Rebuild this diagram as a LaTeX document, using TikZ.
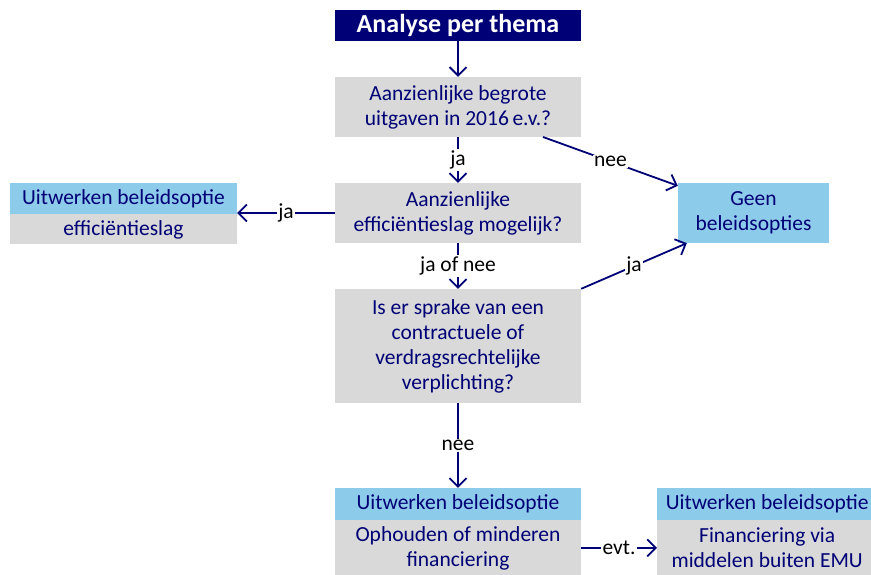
\documentclass[tikz,border=0pt]{standalone}
\usepackage{fontspec}
\setmainfont{Carlito}
\usetikzlibrary{arrows.meta,calc}
\definecolor{navy}{RGB}{0,0,118}
\definecolor{lblue}{RGB}{141,203,234}
\definecolor{lgray}{RGB}{217,217,217}
\tikzset{
  gbox/.style={fill=lgray,text=navy,align=center,inner sep=0pt,font=\fontsize{21.5}{25}\selectfont},
  bbox/.style={fill=lblue,text=navy,align=center,inner sep=0pt,font=\fontsize{21.5}{25}\selectfont},
  conn/.style={draw=navy,line width=1.8pt,-{Straight Barb[angle=90:12pt,line width=1.8pt]}},
  lbl/.style={fill=white,text=black,inner sep=1.5pt,font=\fontsize{21.5}{24}\selectfont},
}
\begin{document}
\begin{tikzpicture}[x=1pt,y=-1pt]
\useasboundingbox (0,0) rectangle (871,575);
% title
\node[fill=navy,text=white,font=\fontsize{26}{28}\selectfont\bfseries,minimum width=246pt,minimum height=31pt,inner sep=0pt] (title) at (458,25.5) {Analyse per thema};
% box1
\node[gbox,minimum width=246pt,minimum height=60pt] (b1) at (458,107) {Aanzienlijke begrote\\uitgaven in 2016\,e.v.?};
% box2
\node[gbox,minimum width=246pt,minimum height=60pt] (b2) at (458,213) {Aanzienlijke\\efficiëntieslag mogelijk?};
% box3
\node[gbox,minimum width=246pt,minimum height=114pt] (b3) at (458,346) {Is er sprake van een\\contractuele of\\verdragsrechtelijke\\verplichting?};
% left box
\node[bbox,minimum width=227pt,minimum height=31pt] (lh) at (123.5,198.5) {Uitwerken beleidsoptie};
\node[gbox,minimum width=227pt,minimum height=30pt,anchor=north] (lb) at (lh.south) {efficiëntieslag};
% geen
\node[bbox,minimum width=151pt,minimum height=60pt] (geen) at (753.5,213) {Geen\\beleidsopties};
% bottom left
\node[bbox,minimum width=246pt,minimum height=32pt] (bh) at (458,504) {Uitwerken beleidsoptie};
\node[gbox,minimum width=246pt,minimum height=55pt,anchor=north] (bb) at (bh.south) {Ophouden of minderen\\financiering};
% bottom right
\node[bbox,minimum width=220pt,minimum height=32pt,anchor=west] (rh) at (657,504) {Uitwerken beleidsoptie};
\node[gbox,minimum width=220pt,minimum height=55pt,anchor=north] (rb) at (rh.south) {Financiering via\\middelen buiten EMU};
% connectors
\draw[conn] (title) -- (b1);
\draw[conn] (b1) -- node[lbl] {ja} (b2);
\draw[conn] (b2) -- node[lbl] {ja of nee} (b3);
\draw[conn] (b3) -- node[lbl,pos=0.5] {nee} (bh);
\draw[conn] (b2.west) -- node[lbl] {ja} (b2.west -| lh.east);
\coordinate (s1) at (543,137);
\coordinate (e1) at ($(geen.north west)+(0,3)$);
\draw[conn] (s1) -- node[lbl,pos=0.5] {nee} (e1);
\coordinate (e2) at ($(geen.south west)+(9,0)$);
\draw[conn] (b3.north east) -- node[lbl,pos=0.5] {ja} (e2);
\draw[conn] (bb.east) -- node[lbl] {evt.} (bb.east -| rb.west);
\end{tikzpicture}
\end{document}
